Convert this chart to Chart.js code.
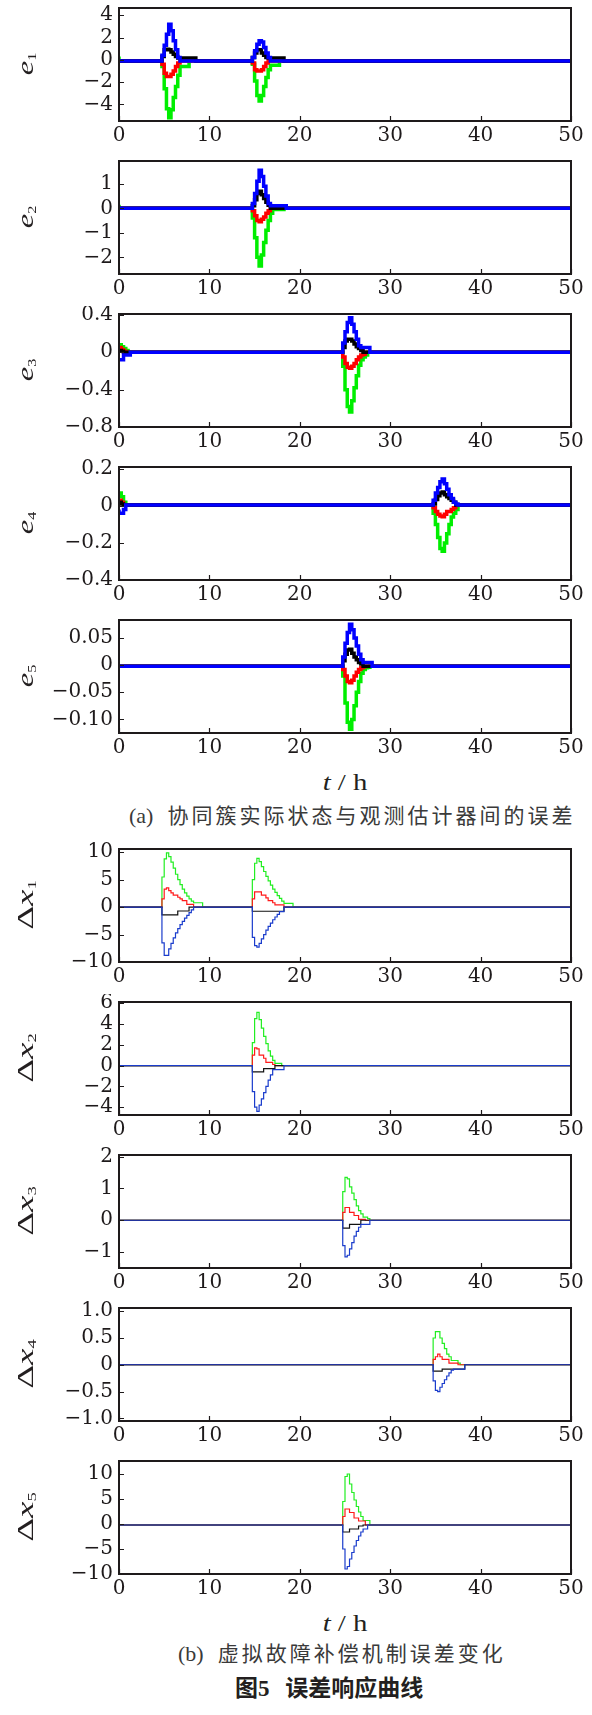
<!DOCTYPE html>
<html>
<head>
<meta charset="utf-8">
<title>误差响应曲线</title>
<script src="https://cdn.jsdelivr.net/npm/chart.js@4.4.1/dist/chart.umd.min.js"></script>
<style>
  body{margin:0;background:#fff;}
  #page{position:relative;width:592px;height:1715px;overflow:hidden;background:#fff;color:#231f20;font-family:"Liberation Serif","Times New Roman",serif;}
  #page canvas{position:absolute;left:0;}
  .ylab{position:absolute;left:25px;white-space:nowrap;font-size:24px;line-height:1;}
  .ylab.e{transform:translate(-50%,-50%) rotate(-90deg) scaleX(1.35);}
  .ylab.dx{transform:translate(-50%,-50%) rotate(-90deg) scaleX(1.55);}
  .ylab sub{font-size:12px;vertical-align:-0.25em;line-height:0;}
  .tlab{position:absolute;left:345px;transform:translate(-50%,-50%) scaleX(1.25);font-size:23px;white-space:nowrap;line-height:1;}
  .cap{position:absolute;transform:translateY(-50%);white-space:nowrap;font-size:22px;line-height:1;color:#3a3a3a;}
  .cap .zh{font-family:"Noto Sans CJK SC",sans-serif;font-size:21px;letter-spacing:3px;margin-left:14px;}
  .title{position:absolute;transform:translateY(-50%);white-space:nowrap;font-size:23px;line-height:1;font-weight:bold;font-family:"Noto Sans CJK SC",sans-serif;color:#231f20;}
</style>
</head>
<body>
<div id="page"></div>
<script>
// x axis (time, h)
const xTicks = [0, 10, 20, 30, 40, 50];

// ---- (a) observer errors e1..e5 ----
const tE1 = [0, 0.5, 4.75, 5, 5.25, 5.5, 5.75, 6, 6.25, 6.5, 6.75, 7, 7.25, 7.5, 7.75, 8, 8.25, 8.5, 8.75, 9, 14.75, 15, 15.25, 15.5, 15.75, 16, 16.25, 16.5, 16.75, 17, 17.25, 17.5, 17.75, 18, 18.25, 18.5, 18.75, 50];
const e1Blue  = [-0.1, -0.1, -0.1, 0.4, 1.3, 2.3, 3.2, 2.6, 1.7, 0.9, 0.2, -0.1, -0.1, -0.1, -0.1, -0.1, -0.1, -0.1, -0.1, -0.1, -0.1, 0.2, 0.8, 1.4, 1.7, 1.6, 1.1, 0.6, 0.2, -0.1, -0.1, -0.1, -0.1, -0.1, -0.1, -0.1, -0.1, -0.1];
const e1Black = [-0.1, -0.1, -0.1, 0.3, 0.9, 0.95, 0.9, 0.7, 0.5, 0.3, 0.15, 0.15, 0.15, 0.15, 0.15, 0.15, 0.15, 0.15, -0.1, -0.1, -0.1, 0.2, 0.6, 0.9, 0.9, 0.6, 0.4, 0.2, 0.15, 0.15, 0.15, 0.15, 0.15, 0.15, 0.15, -0.1, -0.1, -0.1];
const e1Red   = [-0.1, -0.1, -0.1, -0.4, -1.2, -1.5, -1.5, -1.3, -1.0, -0.6, -0.3, -0.1, -0.1, -0.1, -0.1, -0.1, -0.1, -0.1, -0.1, -0.1, -0.1, -0.3, -0.9, -1.0, -1.0, -0.9, -0.6, -0.3, -0.1, -0.1, -0.1, -0.1, -0.1, -0.1, -0.1, -0.1, -0.1, -0.1];
const e1Green = [0.3, -0.1, -0.1, -0.6, -2.6, -4.4, -5.2, -4.5, -3.4, -2.4, -1.4, -0.6, -0.6, -0.6, -0.6, -0.1, -0.1, -0.1, -0.1, -0.1, -0.1, -0.4, -1.9, -3.2, -3.7, -3.2, -2.4, -1.6, -0.9, -0.5, -0.5, -0.5, -0.5, -0.1, -0.1, -0.1, -0.1, -0.1];
const e1Ticks = [-4, -2, 0, 2, 4];
const e1Labels = ['−4', '−2', '0', '2', '4'];

const tE2 = [0, 1.4, 14.75, 15, 15.25, 15.5, 15.75, 16, 16.25, 16.5, 16.75, 17, 17.25, 17.5, 17.75, 18, 18.25, 18.5, 18.75, 50];
const e2Blue  = [0, 0, 0, 0.2, 0.6, 1.1, 1.55, 1.3, 0.9, 0.5, 0.2, 0.1, 0.1, 0.1, 0.1, 0.1, 0.1, 0.1, 0, 0];
const e2Black = [0, 0, 0, 0.1, 0.35, 0.6, 0.7, 0.55, 0.4, 0.25, 0.12, 0, 0, 0, 0, 0, 0, 0, 0, 0];
const e2Red   = [0, 0, 0, -0.1, -0.3, -0.5, -0.55, -0.45, -0.35, -0.2, -0.1, 0, 0, 0, 0, 0, 0, 0, 0, 0];
const e2Green = [0.15, 0, 0, -0.4, -1.2, -2.0, -2.35, -1.9, -1.4, -0.9, -0.5, -0.2, -0.05, -0.05, -0.05, -0.05, -0.05, 0, 0, 0];
const e2Ticks = [-2, -1, 0, 1];
const e2Labels = ['−2', '−1', '0', '1'];

const tE3 = [0, 0.25, 0.5, 0.75, 1, 1.25, 1.5, 24.75, 25, 25.25, 25.5, 25.75, 26, 26.25, 26.5, 26.75, 27, 27.25, 27.5, 27.75, 28, 28.25, 28.5, 28.75, 50];
const e3Blue  = [-0.08, -0.08, -0.08, -0.03, -0.03, -0.03, 0, 0, 0.1, 0.22, 0.32, 0.37, 0.3, 0.22, 0.14, 0.07, 0.05, 0.05, 0.05, 0.05, 0, 0, 0, 0, 0];
const e3Black = [0.02, 0.02, 0.01, 0, 0, 0, 0, 0, 0.05, 0.12, 0.14, 0.14, 0.12, 0.09, 0.06, 0.04, 0.02, 0, 0, 0, 0, 0, 0, 0, 0];
const e3Red   = [0.05, 0.05, 0.03, 0.01, 0, 0, 0, 0, -0.05, -0.12, -0.16, -0.17, -0.15, -0.12, -0.08, -0.05, -0.03, -0.02, 0, 0, 0, 0, 0, 0, 0];
const e3Green = [0.08, 0.08, 0.06, 0.04, 0.02, 0, 0, 0, -0.15, -0.4, -0.58, -0.64, -0.52, -0.38, -0.25, -0.14, -0.08, -0.05, -0.03, 0, 0, 0, 0, 0, 0];
const e3Ticks = [-0.8, -0.4, 0, 0.4];
const e3Labels = ['−0.8', '−0.4', '0', '0.4'];

const tE4 = [0, 0.25, 0.5, 0.75, 1, 1.25, 1.5, 34.75, 35, 35.25, 35.5, 35.75, 36, 36.25, 36.5, 36.75, 37, 37.25, 37.5, 37.75, 38, 38.25, 38.5, 38.75, 50];
const e4Blue  = [-0.02, -0.04, -0.04, -0.02, 0.005, 0.005, 0.005, 0.005, 0.03, 0.07, 0.1, 0.13, 0.145, 0.12, 0.09, 0.06, 0.04, 0.02, 0.01, 0.005, 0.005, 0.005, 0.005, 0.005, 0.005];
const e4Black = [0.01, 0.02, 0.01, 0.005, 0.005, 0.005, 0.005, 0.005, 0.01, 0.035, 0.055, 0.07, 0.075, 0.06, 0.05, 0.04, 0.03, 0.02, 0.005, 0.005, 0.005, 0.005, 0.005, 0.005, 0.005];
const e4Red   = [0.02, 0.03, 0.02, 0.005, 0.005, 0.005, 0.005, 0.005, -0.01, -0.03, -0.045, -0.055, -0.058, -0.045, -0.03, -0.03, -0.02, -0.01, 0.005, 0.005, 0.005, 0.005, 0.005, 0.005, 0.005];
const e4Green = [0.05, 0.07, 0.05, 0.02, 0.005, 0.005, 0.005, 0.005, -0.04, -0.1, -0.17, -0.23, -0.245, -0.2, -0.15, -0.1, -0.06, -0.04, -0.02, 0.005, 0.005, 0.005, 0.005, 0.005, 0.005];
const e4Ticks = [-0.4, -0.2, 0, 0.2];
const e4Labels = ['−0.4', '−0.2', '0', '0.2'];

const tE5 = [0, 24.75, 25, 25.25, 25.5, 25.75, 26, 26.25, 26.5, 26.75, 27, 27.25, 27.5, 27.75, 28, 28.25, 28.5, 28.75, 50];
const e5Blue  = [-0.002, -0.002, 0.015, 0.04, 0.06, 0.075, 0.065, 0.05, 0.035, 0.02, 0.01, 0.005, 0.005, 0.005, 0.005, -0.002, -0.002, -0.002, -0.002];
const e5Black = [-0.002, -0.002, 0.008, 0.02, 0.028, 0.029, 0.022, 0.015, 0.01, 0.005, 0.002, -0.002, -0.002, -0.002, -0.002, -0.002, -0.002, -0.002, -0.002];
const e5Red   = [-0.002, -0.002, -0.008, -0.02, -0.03, -0.0325, -0.028, -0.02, -0.013, -0.008, -0.005, -0.003, -0.002, -0.002, -0.002, -0.002, -0.002, -0.002, -0.002];
const e5Green = [-0.002, -0.002, -0.02, -0.07, -0.105, -0.118, -0.1, -0.075, -0.05, -0.03, -0.015, -0.008, -0.005, -0.004, -0.002, -0.002, -0.002, -0.002, -0.002];
const e5Ticks = [-0.1, -0.05, 0, 0.05];
const e5Labels = ['−0.10', '−0.05', '0', '0.05'];

// ---- (b) virtual fault compensation errors Δx1..Δx5 ----
const tX1 = [0, 4.75, 5, 5.25, 5.5, 5.75, 6, 6.25, 6.5, 6.75, 7, 7.25, 7.5, 7.75, 8, 8.25, 8.5, 8.75, 9, 9.25, 9.5, 9.75, 14.75, 15, 15.25, 15.5, 15.75, 16, 16.25, 16.5, 16.75, 17, 17.25, 17.5, 17.75, 18, 18.25, 18.5, 18.75, 19, 19.25, 19.5, 19.75, 50];
const x1Blue  = [0, 0, -6.5, -8.8, -8.8, -7.6, -6.6, -5.6, -4.7, -3.9, -3.2, -2.6, -2.0, -1.5, -1.0, -0.5, 0, 0, 0, 0, 0, 0, 0, -5.5, -7.0, -7.3, -6.6, -5.8, -5.0, -4.2, -3.5, -2.9, -2.3, -1.8, -1.3, -0.8, -0.8, 0, 0, 0, 0, 0, 0, 0];
const x1Black = [0, 0, -1.4, -1.4, -1.4, -1.4, -1.4, -1.4, -1.4, -0.7, -0.7, -0.7, -0.7, -0.7, 0, 0, 0, 0, 0, 0, 0, 0, 0, -0.75, -0.75, -0.75, -0.75, -0.75, -0.75, -0.75, -0.75, -0.75, -0.75, -0.75, -0.75, -0.75, -0.75, 0, 0, 0, 0, 0, 0, 0];
const x1Red   = [0, 0, 1.5, 3.3, 3.5, 3.0, 2.6, 2.2, 2.2, 1.8, 1.5, 1.2, 1.2, 0.5, 0.5, 0.5, 0, 0, 0, 0, 0, 0, 0, 1.5, 2.8, 2.8, 2.8, 2.2, 2.2, 1.7, 1.2, 1.2, 0.8, 0.4, 0.4, 0.4, 0.4, 0, 0, 0, 0, 0, 0, 0];
const x1Green = [0, 0, 5.5, 8.8, 9.9, 9.2, 8.2, 7.1, 6.0, 5.0, 4.1, 3.3, 2.6, 2.0, 1.5, 1.1, 0.8, 0.8, 0.8, 0.8, 0, 0, 0, 5.0, 8.0, 8.9, 8.3, 7.4, 6.5, 5.6, 4.8, 4.0, 3.3, 2.7, 2.1, 1.6, 1.1, 0.7, 0.7, 0.7, 0.7, 0, 0, 0];
const x1Ticks = [-10, -5, 0, 5, 10];
const x1Labels = ['−10', '−5', '0', '5', '10'];

const tX2 = [0, 14.75, 15, 15.25, 15.5, 15.75, 16, 16.25, 16.5, 16.75, 17, 17.25, 17.5, 17.75, 18, 18.25, 18.5, 18.75, 50];
const x2Blue  = [0, 0, -2.5, -4.0, -4.4, -3.8, -3.2, -2.6, -2.0, -1.4, -0.9, -0.4, -0.4, -0.4, -0.4, -0.4, 0, 0, 0];
const x2Black = [0, 0, -0.6, -0.6, -0.6, -0.6, -0.6, -0.3, -0.3, -0.3, -0.3, -0.3, 0, 0, 0, 0, 0, 0, 0];
const x2Red   = [0, 0, 1.0, 1.7, 1.6, 1.0, 1.0, 0.7, 0.3, 0.3, 0.3, 0.1, 0, 0, 0, 0, 0, 0, 0];
const x2Green = [0, 0, 2.2, 4.5, 5.1, 4.4, 3.6, 2.8, 2.1, 1.4, 0.9, 0.5, 0.2, 0.2, 0.2, 0, 0, 0, 0];
const x2Ticks = [-4, -2, 0, 2, 4, 6];
const x2Labels = ['−4', '−2', '0', '2', '4', '6'];

const tX3 = [0, 24.75, 25, 25.25, 25.5, 25.75, 26, 26.25, 26.5, 26.75, 27, 27.25, 27.5, 27.75, 28, 28.25, 28.5, 28.75, 50];
const x3Blue  = [0, 0, -0.8, -1.15, -1.1, -0.9, -0.7, -0.5, -0.35, -0.22, -0.13, -0.13, -0.13, -0.13, 0, 0, 0, 0, 0];
const x3Black = [0, 0, -0.25, -0.25, -0.25, -0.13, -0.13, -0.13, -0.13, -0.13, 0, 0, 0, 0, 0, 0, 0, 0, 0];
const x3Red   = [0, 0, 0.25, 0.4, 0.4, 0.25, 0.25, 0.15, 0.15, 0.03, 0.03, 0.03, 0, 0, 0, 0, 0, 0, 0];
const x3Green = [0, 0, 0.9, 1.35, 1.3, 1.05, 0.85, 0.65, 0.45, 0.3, 0.2, 0.1, 0.1, 0.05, 0, 0, 0, 0, 0];
const x3Ticks = [-1, 0, 1, 2];
const x3Labels = ['−1', '0', '1', '2'];

const tX4 = [0, 34.75, 35, 35.25, 35.5, 35.75, 36, 36.25, 36.5, 36.75, 37, 37.25, 37.5, 37.75, 38, 38.25, 38.5, 38.75, 50];
const x4Blue  = [0, 0, -0.3, -0.48, -0.5, -0.42, -0.35, -0.28, -0.21, -0.15, -0.1, -0.08, -0.08, -0.08, -0.08, -0.08, 0, 0, 0];
const x4Black = [0, 0, -0.12, -0.12, -0.12, -0.12, -0.08, -0.08, -0.08, -0.08, -0.08, -0.08, -0.08, -0.08, -0.08, -0.08, 0, 0, 0];
const x4Red   = [0, 0, 0.1, 0.15, 0.2, 0.15, 0.1, 0.1, 0.1, 0.03, 0.03, 0.03, 0.03, 0, 0, 0, 0, 0, 0];
const x4Green = [0, 0, 0.5, 0.62, 0.62, 0.5, 0.4, 0.3, 0.2, 0.15, 0.08, 0.08, 0.08, 0.03, 0, 0, 0, 0, 0];
const x4Ticks = [-1, -0.5, 0, 0.5, 1];
const x4Labels = ['−1.0', '−0.5', '0', '0.5', '1.0'];

const tX5 = [0, 24.75, 25, 25.25, 25.5, 25.75, 26, 26.25, 26.5, 26.75, 27, 27.25, 27.5, 27.75, 28, 28.25, 28.5, 28.75, 50];
const x5Blue  = [-0.2, -0.2, -5, -9.0, -8.5, -7.0, -5.7, -4.4, -3.3, -2.4, -1.6, -1.0, -1.0, -0.2, -0.2, -0.2, -0.2, -0.2, -0.2];
const x5Black = [-0.2, -0.2, -1.6, -1.6, -1.6, -1.0, -1.0, -1.0, -1.0, -0.4, -0.4, -0.2, -0.2, -0.2, -0.2, -0.2, -0.2, -0.2, -0.2];
const x5Red   = [-0.2, -0.2, 1.5, 3.0, 3.0, 2.3, 2.3, 1.2, 1.2, 0.6, 0.6, 0.6, -0.2, -0.2, -0.2, -0.2, -0.2, -0.2, -0.2];
const x5Green = [-0.2, -0.2, 4.5, 9.5, 10, 8.0, 6.3, 4.8, 3.5, 2.4, 1.5, 0.7, 0.7, 0.7, -0.2, -0.2, -0.2, -0.2, -0.2];
const x5Ticks = [-10, -5, 0, 5, 10];
const x5Labels = ['−10', '−5', '0', '5', '10'];

const page = document.getElementById('page');
const ink = '#1e1a1b';
const tickFont = {family: '"DejaVu Serif", "Liberation Serif", serif', size: 20};

// box round the plot, with short ticks pointing inwards
const framePlugin = {
  id: 'frame',
  afterDraw(chart) {
    const ctx = chart.ctx, a = chart.chartArea;
    const xs = chart.scales.x, ys = chart.scales.y;
    ctx.save();
    ctx.strokeStyle = ink;
    ctx.lineWidth = 1.2;
    ctx.beginPath();
    xs.ticks.forEach(t => {
      const p = Math.round(xs.getPixelForValue(t.value)) + 0.5;
      ctx.moveTo(p, a.bottom); ctx.lineTo(p, a.bottom - 5);
    });
    ys.ticks.forEach(t => {
      const p = Math.round(ys.getPixelForValue(t.value)) + 0.5;
      ctx.moveTo(a.left, p); ctx.lineTo(a.left + 5, p);
    });
    ctx.stroke();
    ctx.lineWidth = 2;
    ctx.strokeRect(a.left, a.top, a.right - a.left, a.bottom - a.top);
    ctx.restore();
  }
};

class ErrorPanels {

  static draw(top, times, series, yMin, yMax, yTicks, yLabels, style) {
    const cv = document.createElement('canvas');
    cv.width = 592; cv.height = 153;
    cv.style.top = (top - 8) + 'px';
    page.appendChild(cv);
    const pts = v => times.map((t, i) => ({x: t, y: v[i]}));
    // blue first so it sits on top, as in the figure
    const order = ['blue', 'black', 'red', 'green'];
    const datasets = order.map((k, i) => ({
      data: pts(series[i]),
      borderColor: style.colors[k],
      borderWidth: style.width,
      pointRadius: 0,
      stepped: 'after',
      fill: false
    }));
    new Chart(cv, {
      type: 'line',
      data: {datasets: datasets},
      options: {
        responsive: false,
        animation: false,
        devicePixelRatio: 1,
        layout: {padding: {left: 0, right: 21, top: 8, bottom: 0}},
        plugins: {legend: {display: false}, tooltip: {enabled: false}},
        scales: {
          x: {
            type: 'linear', min: 0, max: 50,
            grid: {display: false, drawTicks: false},
            border: {display: false},
            ticks: {padding: 3, maxRotation: 0, autoSkip: false, color: ink, font: tickFont},
            afterBuildTicks: s => { s.ticks = xTicks.map(v => ({value: v})); },
            afterFit: s => { s.height = 32; s.paddingLeft = 0; s.paddingRight = 0; }
          },
          y: {
            type: 'linear', min: yMin, max: yMax,
            grid: {display: false, drawTicks: false},
            border: {display: false},
            ticks: {padding: 6, autoSkip: false, color: ink, font: tickFont, callback: (v, i) => yLabels[i]},
            afterBuildTicks: s => { s.ticks = yTicks.map(v => ({value: v})); },
            afterFit: s => { s.width = 119; s.paddingTop = 0; s.paddingBottom = 0; }
          }
        }
      },
      plugins: [framePlugin]
    });
  }

  static label(cls, html, y) {
    const d = document.createElement('div');
    d.className = 'ylab ' + cls;
    d.style.top = y + 'px';
    d.innerHTML = html;
    page.appendChild(d);
  }

  static text(cls, html, x, y) {
    const d = document.createElement('div');
    d.className = cls;
    if (x !== null) d.style.left = x + 'px';
    d.style.top = y + 'px';
    d.innerHTML = html;
    page.appendChild(d);
  }

  static init() {
    const thick = {width: 3.5, colors: {blue: '#0000ff', black: '#000000', red: '#ff0000', green: '#00ee00'}};
    const thin = {width: 1.2, colors: {blue: '#1a3ccc', black: '#111111', red: '#ff1a1a', green: '#22ee22'}};

    ErrorPanels.draw(8,   tE1, [e1Blue, e1Black, e1Red, e1Green], -5.5, 4.65, e1Ticks, e1Labels, thick);
    ErrorPanels.draw(161, tE2, [e2Blue, e2Black, e2Red, e2Green], -2.68, 1.93, e2Ticks, e2Labels, thick);
    ErrorPanels.draw(314, tE3, [e3Blue, e3Black, e3Red, e3Green], -0.8, 0.41, e3Ticks, e3Labels, thick);
    ErrorPanels.draw(467, tE4, [e4Blue, e4Black, e4Red, e4Green], -0.4, 0.21, e4Ticks, e4Labels, thick);
    ErrorPanels.draw(620, tE5, [e5Blue, e5Black, e5Red, e5Green], -0.125, 0.083, e5Ticks, e5Labels, thick);

    ErrorPanels.draw(849,  tX1, [x1Blue, x1Black, x1Red, x1Green], -10, 10.6, x1Ticks, x1Labels, thin);
    ErrorPanels.draw(1002, tX2, [x2Blue, x2Black, x2Red, x2Green], -4.75, 6.1, x2Ticks, x2Labels, thin);
    ErrorPanels.draw(1155, tX3, [x3Blue, x3Black, x3Red, x3Green], -1.5, 2.05, x3Ticks, x3Labels, thin);
    ErrorPanels.draw(1308, tX4, [x4Blue, x4Black, x4Red, x4Green], -1.05, 1.06, x4Ticks, x4Labels, thin);
    ErrorPanels.draw(1461, tX5, [x5Blue, x5Black, x5Red, x5Green], -10, 12.6, x5Ticks, x5Labels, thin);

    [8, 161, 314, 467, 620].forEach((top, i) => {
      ErrorPanels.label('e', '<i>e</i><sub>' + (i + 1) + '</sub>', top + 56);
    });
    [849, 1002, 1155, 1308, 1461].forEach((top, i) => {
      ErrorPanels.label('dx', 'Δ<i>x</i><sub>' + (i + 1) + '</sub>', top + 56);
    });

    ErrorPanels.text('tlab', '<i>t</i> / h', null, 782);
    ErrorPanels.text('tlab', '<i>t</i> / h', null, 1623);
    ErrorPanels.text('cap', '(a)<span class="zh">协同簇实际状态与观测估计器间的误差</span>', 129, 815);
    ErrorPanels.text('cap', '(b)<span class="zh">虚拟故障补偿机制误差变化</span>', 178, 1653);
    ErrorPanels.text('title', '图<span style="font-family:\'Liberation Serif\',serif">5</span>&nbsp;&nbsp;&nbsp;误差响应曲线', 235, 1687);
  }
}

ErrorPanels.init();
</script>
</body>
</html>
